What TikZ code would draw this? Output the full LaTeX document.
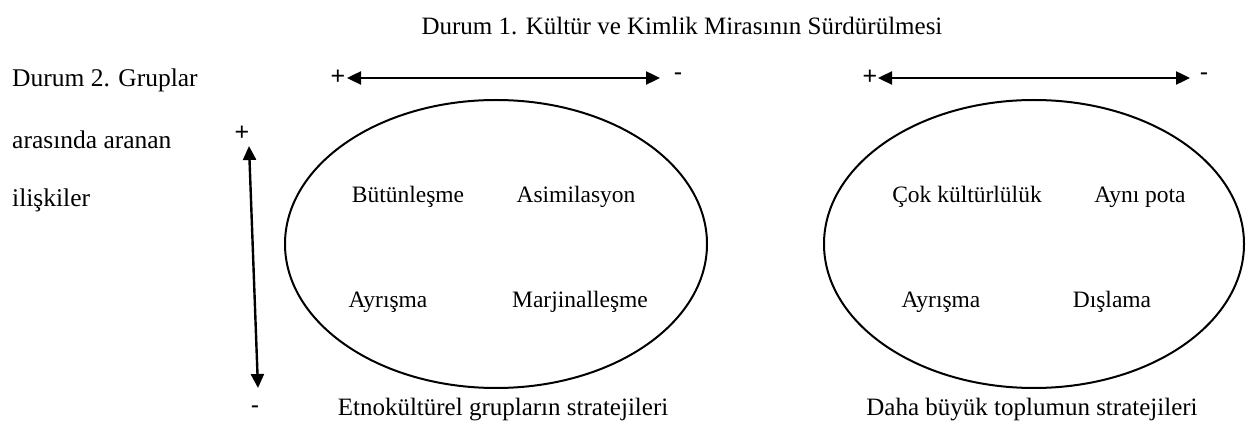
\documentclass[tikz,border=0pt]{standalone}
\usepackage{fontspec}
\setmainfont{Liberation Serif}
\newfontfamily\signfont{Liberation Sans}
\usetikzlibrary{arrows.meta}
\begin{document}
\begin{tikzpicture}[x=1pt,y=-1pt,
  lbl/.style={inner sep=0pt,font=\fontsize{23.5}{26}\selectfont},
  biglbl/.style={inner sep=0pt,font=\fontsize{25}{28}\selectfont},
  lefttxt/.style={inner sep=0pt,anchor=west,font=\fontsize{25.5}{28}\selectfont},
  sign/.style={inner sep=0pt,font=\signfont\fontsize{25}{27}\selectfont},
  axis/.style={line width=2.4pt,{Triangle[length=14pt,width=13pt]}-{Triangle[length=14pt,width=13pt]}},
  oval/.style={draw,line width=2pt}]
\useasboundingbox (0,0) rectangle (1248,430);
% title
\node[biglbl] (title) at (682,26) {Durum 1. Kültür ve Kimlik Mirasının Sürdürülmesi};
% left text
\node[lefttxt] (l1) at (12,80) {Durum 2. Gruplar};
\node[lefttxt] (l2) at (12,140) {arasında aranan};
\node[lefttxt] (l3) at (12,200) {ilişkiler};
% horizontal axes
\coordinate (a1l) at (347,78);
\coordinate (a1r) at (660,78);
\draw[axis] (a1l) -- (a1r);
\node[sign] (p1) at (338,77) {+};
\node[sign] (m1) at (678,77) {-};
\coordinate (a2l) at (878,78);
\coordinate (a2r) at (1190,78);
\draw[axis] (a2l) -- (a2r);
\node[sign] (p2) at (870,77) {+};
\node[sign] (m2) at (1204,77) {-};
% vertical axis
\coordinate (vt) at (249,146);
\coordinate (vb) at (258,388);
\draw[axis] (vt) -- (vb);
\node[sign] (pv) at (242,133) {+};
\node[sign] (mv) at (255,410) {-};
% ellipses
\draw[oval] (496,244) ellipse [x radius=211, y radius=144];
\draw[oval] (1034,244) ellipse [x radius=210, y radius=144];
% inner texts
\node[lbl] (b1) at (408,197) {Bütünleşme};
\node[lbl] (b2) at (576,197) {Asimilasyon};
\node[lbl] (b3) at (388,302) {Ayrışma};
\node[lbl] (b4) at (580,302) {Marjinalleşme};
\node[lbl] (c1) at (967,197) {Çok kültürlülük};
\node[lbl] (c2) at (1140,197) {Aynı pota};
\node[lbl] (c3) at (941,302) {Ayrışma};
\node[lbl] (c4) at (1112,302) {Dışlama};
% captions
\node[biglbl] (cap1) at (503,410) {Etnokültürel grupların stratejileri};
\node[biglbl] (cap2) at (1032,410) {Daha büyük toplumun stratejileri};
\end{tikzpicture}
\end{document}
